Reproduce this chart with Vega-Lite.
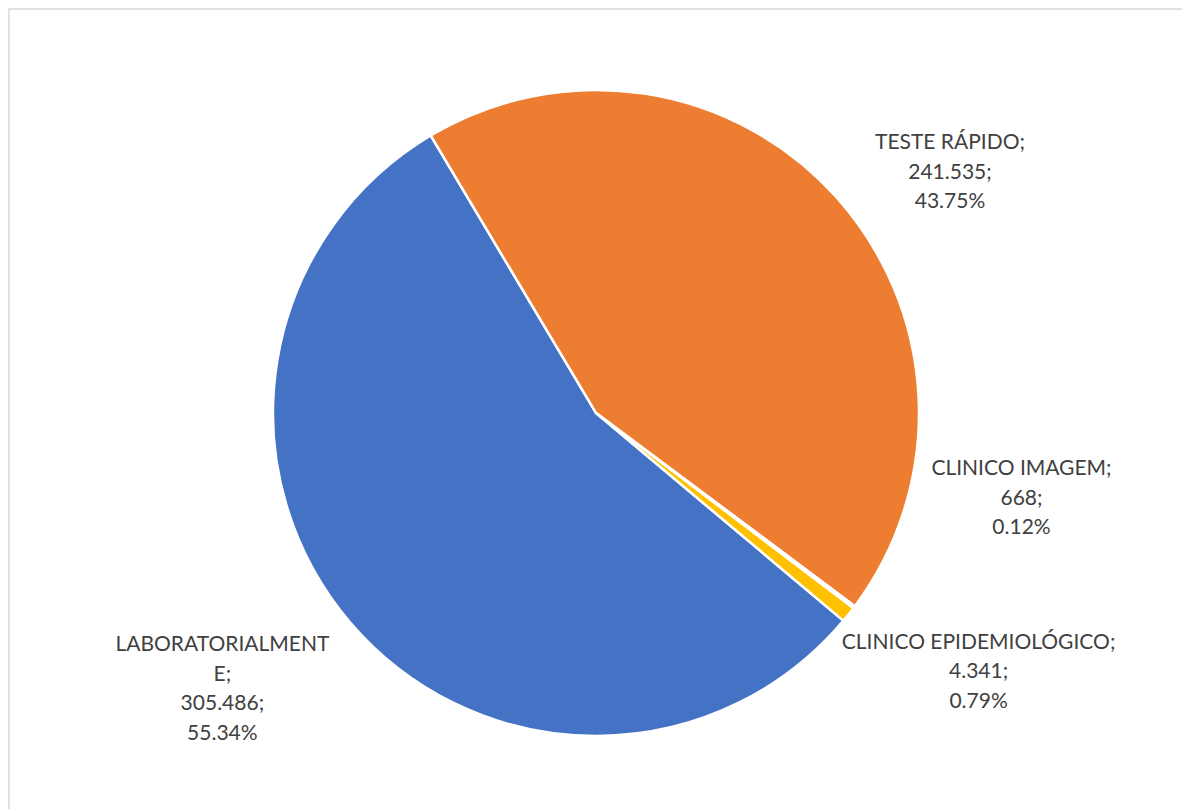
{
  "$schema": "https://vega.github.io/schema/vega-lite/v6.json",
  "width": 1174,
  "height": 808,
  "autosize": "none",
  "padding": {"left": 9, "top": 9, "right": -1, "bottom": -8},
  "background": "white",
  "view": {"stroke": "#D9D9D9", "strokeWidth": 1.5},
  "config": {"view": {"stroke": "#D9D9D9", "strokeWidth": 1.5}, "style": {"cell": {"stroke": "#D9D9D9", "strokeWidth": 1.5}}},
  "data": {
    "values": [
      {"seq": 1, "categoria": "LABORATORIALMENTE", "valor": 305486, "label": "LABORATORIALMENT\nE;\n305.486;\n55.34%"},
      {"seq": 2, "categoria": "TESTE RÁPIDO", "valor": 241535, "label": "TESTE RÁPIDO;\n241.535;\n43.75%"},
      {"seq": 3, "categoria": "CLINICO IMAGEM", "valor": 668, "label": "CLINICO IMAGEM;\n668;\n0.12%"},
      {"seq": 4, "categoria": "CLINICO EPIDEMIOLÓGICO", "valor": 4341, "label": "CLINICO EPIDEMIOLÓGICO;\n4.341;\n0.79%"}
    ]
  },
  "encoding": {
    "theta": {"field": "valor", "type": "quantitative", "stack": true, "scale": {"range": [2.2689, 8.5521]}},
    "order": {"field": "seq", "type": "quantitative"}
  },
  "layer": [
    {
      "mark": {"type": "arc", "outerRadius": 323, "stroke": "white", "strokeWidth": 2.5},
      "encoding": {
        "color": {
          "field": "categoria",
          "type": "nominal",
          "scale": {
            "domain": ["LABORATORIALMENTE", "TESTE RÁPIDO", "CLINICO IMAGEM", "CLINICO EPIDEMIOLÓGICO"],
            "range": ["#4472C4", "#ED7D31", "#A5A5A5", "#FFC000"]
          },
          "legend": null
        }
      }
    },
    {
      "mark": {"type": "text", "radius": 424, "dx": 39, "dy": 14, "font": "Lato", "fontSize": 21, "lineHeight": 29.5, "lineBreak": "\n", "color": "#404040", "align": "center", "baseline": "middle"},
      "encoding": {"text": {"condition": {"test": "datum.categoria === 'TESTE RÁPIDO'", "field": "label", "type": "nominal"}, "value": ""}}
    },
    {
      "mark": {"type": "text", "radius": 391, "dx": 113, "dy": -179, "font": "Lato", "fontSize": 21, "lineHeight": 29.5, "lineBreak": "\n", "color": "#404040", "align": "center", "baseline": "middle"},
      "encoding": {"text": {"condition": {"test": "datum.categoria === 'CLINICO IMAGEM'", "field": "label", "type": "nominal"}, "value": ""}}
    },
    {
      "mark": {"type": "text", "radius": 460, "dx": 23, "dy": -57, "font": "Lato", "fontSize": 21, "lineHeight": 29.5, "lineBreak": "\n", "color": "#404040", "align": "center", "baseline": "middle"},
      "encoding": {"text": {"condition": {"test": "datum.categoria === 'CLINICO EPIDEMIOLÓGICO'", "field": "label", "type": "nominal"}, "value": ""}}
    },
    {
      "mark": {"type": "text", "radius": 463, "dx": -21, "dy": -68, "font": "Lato", "fontSize": 21, "lineHeight": 29.5, "lineBreak": "\n", "color": "#404040", "align": "center", "baseline": "middle"},
      "encoding": {"text": {"condition": {"test": "datum.categoria === 'LABORATORIALMENTE'", "field": "label", "type": "nominal"}, "value": ""}}
    }
  ]
}
